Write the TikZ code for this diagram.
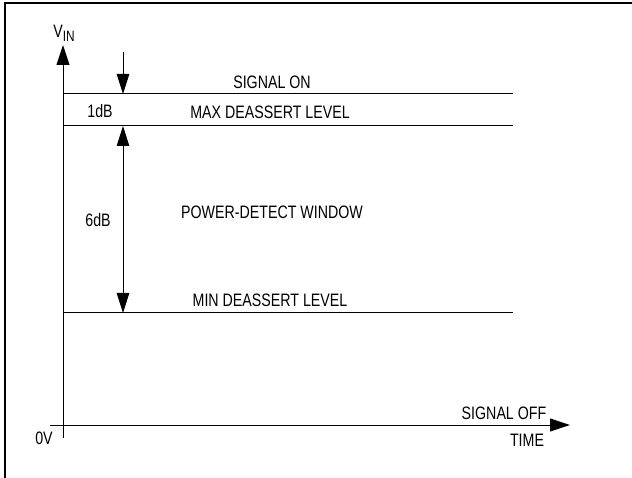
\documentclass[tikz,border=0pt]{standalone}
\usepackage{fontspec}
\setmainfont{Liberation Sans}[FakeStretch=0.79]
\usetikzlibrary{arrows.meta}
\begin{document}
\begin{tikzpicture}[x=1pt,y=-1pt,
  lbl/.style={inner sep=0pt,font=\fontsize{18}{18}\selectfont},
  ln/.style={line width=1pt,black},
  bigtip/.style={-{Triangle[length=20pt,width=12.5pt]}},
  axtip/.style={-{Triangle[length=20pt,width=13pt]}}]
\useasboundingbox (0,0) rectangle (632,478);
% frame (left and top edges)
\draw[line width=1.2pt] (5,478) -- (5,3) -- (632,3);
% axes
\coordinate (ybot) at (63,438);
\coordinate (ytop) at (63,45);
\coordinate (xl) at (50,425);
\coordinate (xr) at (570,425);
\draw[ln,axtip] (ybot) -- (ytop);
\draw[ln,axtip] (xl) -- (xr);
% level lines
\coordinate (onL) at (63,94);   \coordinate (onR) at (513,94);
\coordinate (maxL) at (63,126); \coordinate (maxR) at (513,126);
\coordinate (minL) at (63,313); \coordinate (minR) at (513,313);
\draw[ln] (onL) -- (onR);
\draw[ln] (maxL) -- (maxR);
\draw[ln] (minL) -- (minR);
% arrows
\coordinate (a1s) at (123,52);
\coordinate (a1e) at (123,94);
\coordinate (a2s) at (123,126);
\coordinate (a2e) at (123,313);
\draw[ln,bigtip] (a1s) -- (a1e);
\draw[ln,{Triangle[length=20pt,width=12.5pt]}-{Triangle[length=20pt,width=12.5pt]}] (a2s) -- (a2e);
% labels
\node[lbl] (vin) at (64,33) {V\raisebox{-4pt}{\fontsize{15}{15}\selectfont IN}};
\node[lbl] (son) at (272,82) {SIGNAL ON};
\node[lbl] (db1) at (100,111) {1dB};
\node[lbl] (maxl) at (270,112) {MAX DEASSERT LEVEL};
\node[lbl] (db6) at (98,220) {6dB};
\node[lbl] (pdw) at (272,212) {POWER-DETECT WINDOW};
\node[lbl] (minl) at (270,300) {MIN DEASSERT LEVEL};
\node[lbl] (soff) at (504,413) {SIGNAL OFF};
\node[lbl] (time) at (527,440) {TIME};
\node[lbl] (zv) at (44,438) {0V};
\end{tikzpicture}
\end{document}
